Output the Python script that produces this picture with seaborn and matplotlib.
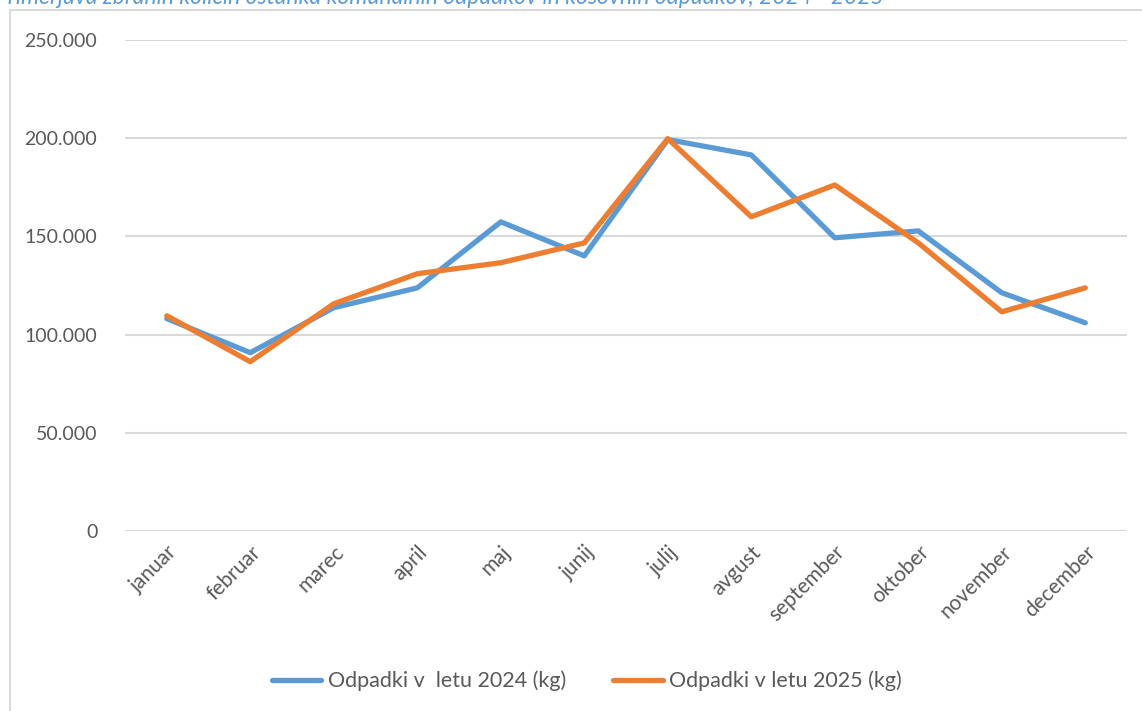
import matplotlib
matplotlib.use("Agg")
import matplotlib.pyplot as plt
import matplotlib.ticker as mticker
from matplotlib.lines import Line2D
import pandas as pd
import seaborn as sns

# data
months = ["januar", "februar", "marec", "april", "maj", "junij",
          "julij", "avgust", "september", "oktober", "november", "december"]
waste_2024 = [108100, 90800, 113700, 123800, 157400, 140100,
              199300, 191500, 149300, 152800, 121300, 106000]
waste_2025 = [109600, 86200, 115700, 131000, 136600, 146700,
              199800, 160000, 176200, 146700, 111600, 123800]
label_2024 = "Odpadki v  letu 2024 (kg)"
label_2025 = "Odpadki v letu 2025 (kg)"
title = "Primerjava zbranih količin ostanka komunalnih odpadkov in kosovnih odpadkov, 2024 - 2025"

sns.set_theme(style="whitegrid")
plt.rcParams["font.family"] = ["Lato", "DejaVu Sans"]

df = pd.DataFrame({
    "mesec": months * 2,
    "kg": waste_2024 + waste_2025,
    "serija": [label_2024] * 12 + [label_2025] * 12,
})
df["x"] = list(range(12)) * 2

text_col = "#595959"
grid_col = "#D9D9D9"

fig = plt.figure(figsize=(11.42, 7.11), dpi=100)
ax = fig.add_axes([0.1095, 0.2532, 0.8774, 0.6905])

sns.lineplot(data=df, x="x", y="kg", hue="serija", ax=ax,
             palette=["#5B9BD5", "#ED7D31"], linewidth=3.8,
             solid_capstyle="round", solid_joinstyle="round", legend=False)

ax.set_xlim(-0.5, 11.5)
ax.set_ylim(0, 250000)
ax.set_yticks(range(0, 250001, 50000))
ax.yaxis.set_major_formatter(mticker.FuncFormatter(lambda v, p: f"{int(v):,}".replace(",", ".")))
ax.set_xticks(range(12))
ax.set_xticklabels(months, rotation=45, ha="right", va="top", rotation_mode="anchor")
ax.set_xlabel("")
ax.set_ylabel("")
ax.grid(axis="x", visible=False)
ax.grid(axis="y", color=grid_col, linewidth=1.5)
for s in ax.spines.values():
    s.set_visible(False)
ax.tick_params(axis="y", length=0, pad=20, labelsize=14, labelcolor=text_col)
ax.tick_params(axis="x", length=0, pad=8, labelsize=15, labelcolor=text_col)

handles = [Line2D([0], [0], color="#5B9BD5", lw=3.8, solid_capstyle="round"),
           Line2D([0], [0], color="#ED7D31", lw=3.8, solid_capstyle="round")]
fig.legend(handles, [label_2024, label_2025], loc="center", bbox_to_anchor=(0.514, 0.042),
           ncol=2, frameon=False, fontsize=15.5, labelcolor=text_col,
           handlelength=2.3, handletextpad=0.3, columnspacing=2.2)

# chart area border (top and left only visible in crop)
fig.add_artist(Line2D([10 / 1142, 1.01], [1 - 10 / 711] * 2, transform=fig.transFigure,
                      color=grid_col, lw=1.5))
fig.add_artist(Line2D([10 / 1142] * 2, [1 - 10 / 711, -0.01], transform=fig.transFigure,
                      color=grid_col, lw=1.5))

# title, cut off at the top edge as in the reference
fig.text(-0.004, 1 - 4 / 711, title, ha="left", va="baseline", fontsize=16.5,
         style="italic", color="#5B9BD5")

fig.savefig("out.png", dpi=100)
